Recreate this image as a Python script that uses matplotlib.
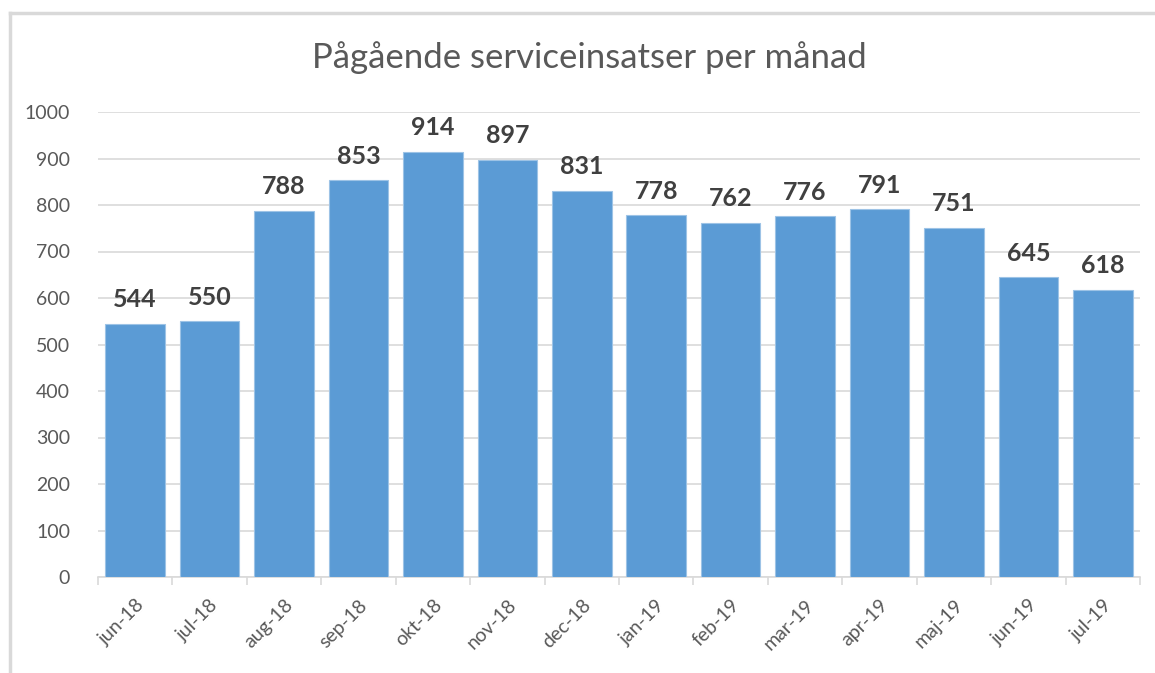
import matplotlib.pyplot as plt
from matplotlib.lines import Line2D

# Data
months = ['jun-18', 'jul-18', 'aug-18', 'sep-18', 'okt-18', 'nov-18', 'dec-18',
          'jan-19', 'feb-19', 'mar-19', 'apr-19', 'maj-19', 'jun-19', 'jul-19']
counts = [544, 550, 788, 853, 914, 897, 831, 778, 762, 776, 791, 751, 645, 618]

W, H = 1155, 673
fig = plt.figure(figsize=(W / 100, H / 100), dpi=100)
plt.rcParams['font.family'] = ['Lato', 'DejaVu Sans']

# Chart frame (only top and left edges are visible)
fig.add_artist(Line2D([10 / W, 1.0], [1 - 13 / H, 1 - 13 / H], color='#d9d9d9', lw=2.5))
fig.add_artist(Line2D([10 / W, 10 / W], [0.0, 1 - 13 / H], color='#d9d9d9', lw=2.5))

ax = fig.add_axes([98 / W, 1 - 577 / H, (1140 - 98) / W, (577 - 112) / H])
x = list(range(len(months)))
bars = ax.bar(x, counts, width=0.8, color='#5b9bd5', edgecolor='#9dc3e6', linewidth=0.8, zorder=3)

for xi, v in zip(x, counts):
    ax.text(xi, v + 27, str(v), ha='center', va='bottom', fontsize=18,
            fontweight='bold', color='#404040')

ax.set_xlim(-0.5, len(months) - 0.5)
ax.set_ylim(0, 1000)
ax.set_yticks(range(0, 1001, 100))
ax.yaxis.grid(True, color='#d9d9d9', lw=1.2, zorder=0)
ax.tick_params(axis='y', length=0, labelsize=14, labelcolor='#595959', pad=20)

ax.set_xticks(x)
ax.set_xticklabels(months, rotation=45, ha='right', rotation_mode='anchor')
ax.set_xticks([i - 0.5 for i in range(len(months) + 1)], minor=True)
ax.tick_params(axis='x', which='major', length=0, labelsize=14, labelcolor='#595959', pad=14)
ax.tick_params(axis='x', which='minor', length=6, color='#d9d9d9', width=1.2)

for s in ['top', 'right', 'left']:
    ax.spines[s].set_visible(False)
ax.spines['bottom'].set_color('#d9d9d9')
ax.spines['bottom'].set_linewidth(1.2)

fig.text(589 / W, 1 - 58 / H, 'Pågående serviceinsatser per månad', ha='center', va='center',
         fontsize=25, color='#595959')

fig.savefig('out.png', dpi=100, facecolor='white')
